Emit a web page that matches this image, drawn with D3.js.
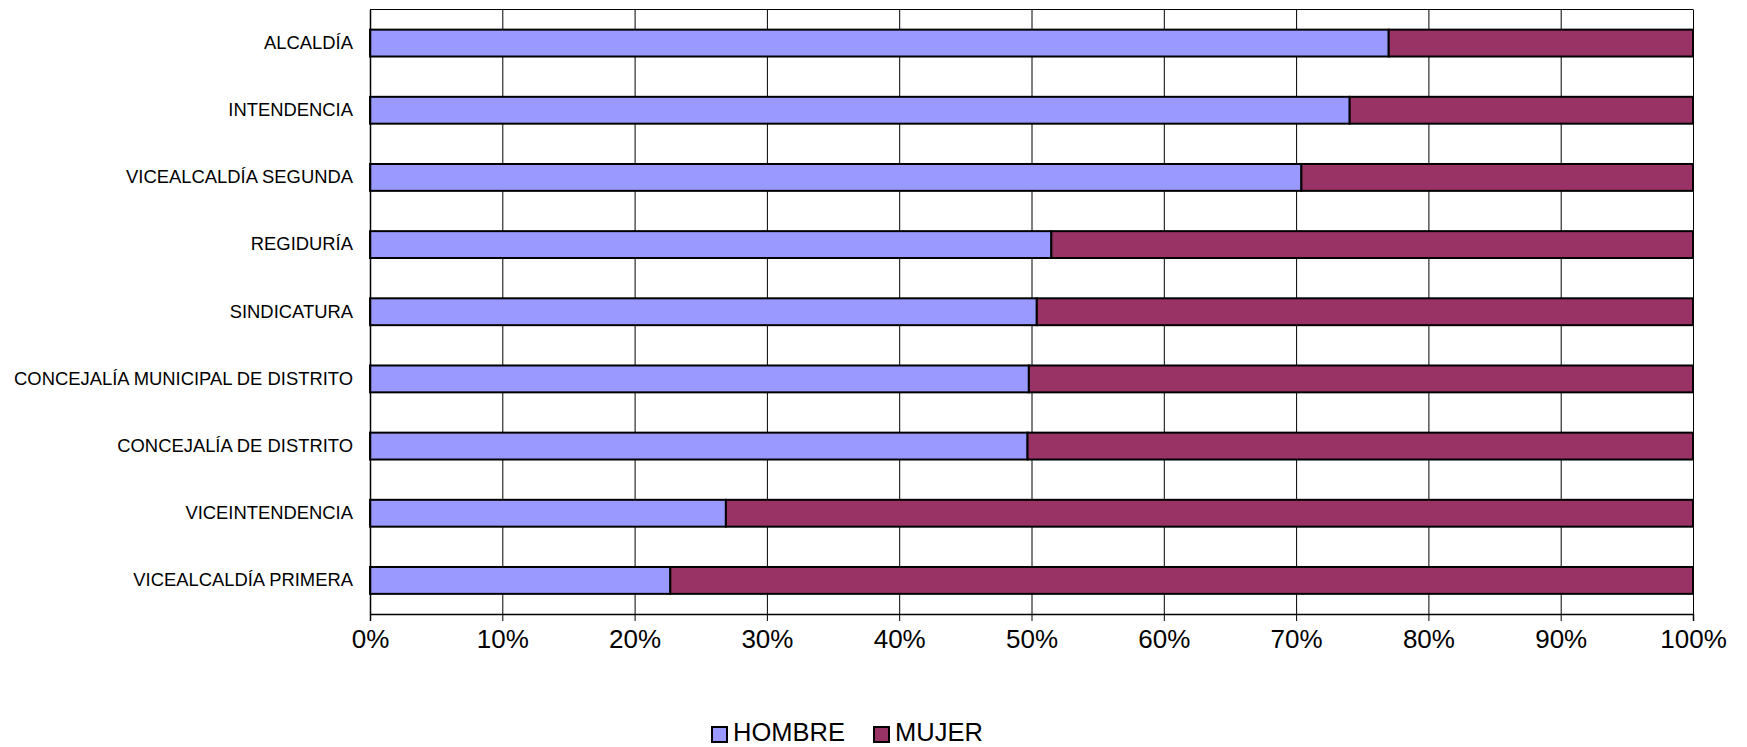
<!DOCTYPE html>
<html><head><meta charset="utf-8">
<script src="https://cdn.jsdelivr.net/npm/d3@7"></script>
<style>body{margin:0;background:#fff;font-family:"Liberation Sans",Arial,sans-serif}</style>
</head><body><svg id="c" width="1747" height="747"></svg>
<script>
const categories = ["ALCALDÍA","INTENDENCIA","VICEALCALDÍA SEGUNDA","REGIDURÍA","SINDICATURA","CONCEJALÍA MUNICIPAL DE DISTRITO","CONCEJALÍA DE DISTRITO","VICEINTENDENCIA","VICEALCALDÍA PRIMERA"];
const hombre = [77.0, 74.05, 70.4, 51.5, 50.4, 49.8, 49.7, 26.9, 22.7];
const mujer = hombre.map(v => 100 - v);
const seriesNames = ["HOMBRE","MUJER"];
const colors = ["#9999FF","#993366"];
const tickValues = [0,10,20,30,40,50,60,70,80,90,100];

const svg = d3.select("#c");
const L = 370, R = 1693, T = 9.5, B = 614;
const x = d3.scaleLinear().domain([0,100]).range([L,R]);
const y = d3.scaleBand().domain(categories).range([T,B]).paddingInner(0.6).paddingOuter(0.3);

// gridlines
svg.append("g").selectAll("line").data(tickValues).join("line")
  .attr("x1",d=>x(d)+0.5).attr("x2",d=>x(d)+0.5).attr("y1",T).attr("y2",B)
  .attr("stroke","#000").attr("stroke-width",1);
svg.append("line").attr("x1",L).attr("x2",R).attr("y1",T).attr("y2",T).attr("stroke","#000");

// bars
const stacked = categories.map((c,i)=>({c, vals:[hombre[i], mujer[i]]}));
stacked.forEach(d=>{
  let acc = 0;
  d.vals.forEach((v,k)=>{
    svg.append("rect").attr("x",x(acc)).attr("y",y(d.c)).attr("width",x(acc+v)-x(acc)).attr("height",y.bandwidth())
      .attr("fill",colors[k]).attr("stroke","#000").attr("stroke-width",2);
    acc += v;
  });
});

// x axis
const xa = svg.append("g").attr("transform",`translate(0,${B})`)
  .call(d3.axisBottom(x).tickValues(tickValues).tickSize(7).tickPadding(9).tickFormat(d=>d+"%"));
xa.select(".domain").attr("stroke","#000").attr("stroke-width",1.5);
xa.selectAll(".tick line").attr("stroke","#000");
xa.selectAll("text").attr("font-size",26).attr("fill","#000").attr("font-family","Liberation Sans, Arial, sans-serif");

// y axis
const ya = svg.append("g").attr("transform",`translate(${L},0)`)
  .call(d3.axisLeft(y).tickSize(0).tickPadding(17));
ya.select(".domain").attr("stroke","#000").attr("stroke-width",1.5);
ya.selectAll("text").attr("font-size",18.4).attr("fill","#000").attr("font-family","Liberation Sans, Arial, sans-serif");

// legend
const legX = [712, 874];
seriesNames.forEach((n,k)=>{
  svg.append("rect").attr("x",legX[k]).attr("y",727).attr("width",15).attr("height",15)
    .attr("fill",colors[k]).attr("stroke","#000").attr("stroke-width",2);
  svg.append("text").attr("x",legX[k]+21).attr("y",741).attr("font-size",25.5)
    .attr("font-family","Liberation Sans, Arial, sans-serif").text(n);
});
</script></body></html>
